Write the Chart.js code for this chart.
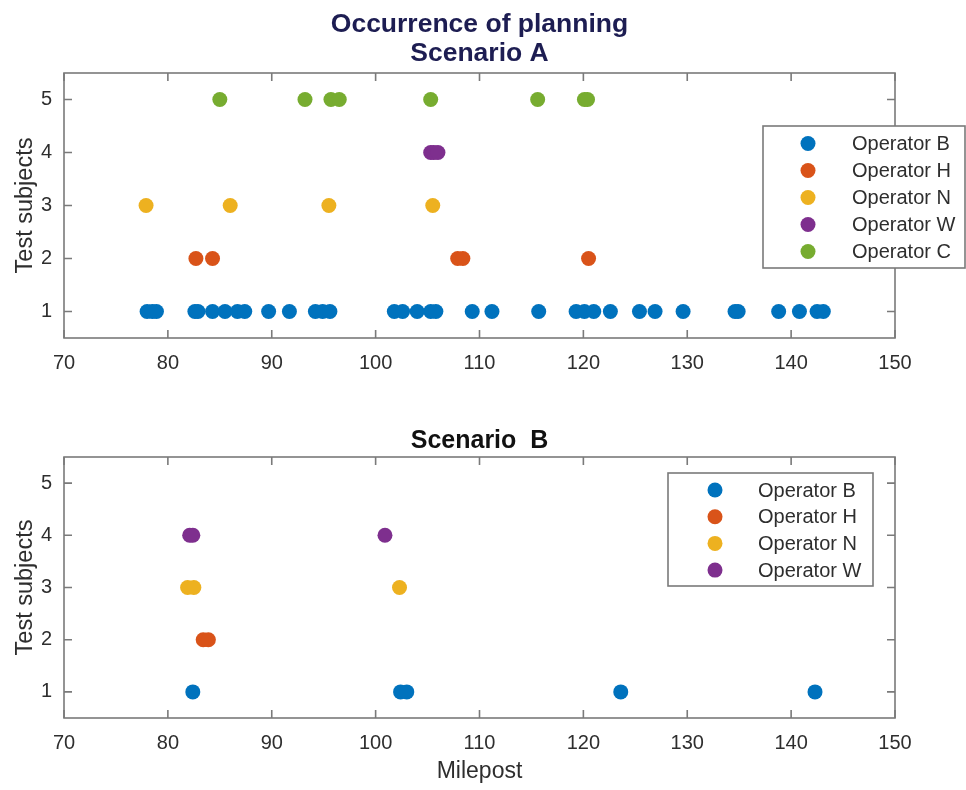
<!DOCTYPE html>
<html>
<head>
<meta charset="utf-8">
<title>Occurrence of planning</title>
<script src="https://cdn.jsdelivr.net/npm/chart.js@4.4.1/dist/chart.umd.min.js"></script>
<style>
  html, body { margin: 0; padding: 0; background: #fff; }
  #wrap { position: relative; width: 966px; height: 790px; }
  canvas { position: absolute; left: 0; }
  #chartA { top: 0; }
  #chartB { top: 395px; }
</style>
</head>
<body>
<div id="wrap">
  <canvas id="chartA" width="966" height="395"></canvas>
  <canvas id="chartB" width="966" height="395"></canvas>
</div>
<script>
// milepost where each operator planned, per scenario
const operatorNames = ["Operator B", "Operator H", "Operator N", "Operator W", "Operator C"];
const operatorColors = ["#0072BD", "#D95319", "#EDB120", "#7E2F8E", "#77AC30"];
const subjectIds = [1, 2, 3, 4, 5];

const scenarioA_B = [78.0, 78.5, 78.9, 82.6, 82.9, 84.3, 85.5, 86.7, 87.4, 89.7, 91.7, 94.2, 94.9, 95.6,
  101.8, 102.6, 104.0, 105.3, 105.8, 109.3, 111.2, 115.7, 119.3, 120.1, 121.0, 122.6, 125.4,
  126.9, 129.6, 134.6, 134.9, 138.8, 140.8, 142.5, 143.1];
const scenarioA_H = [82.7, 84.3, 107.9, 108.4, 120.5];
const scenarioA_N = [77.9, 86.0, 95.5, 105.5];
const scenarioA_W = [105.3, 105.6, 106.0];
const scenarioA_C = [85.0, 93.2, 95.7, 96.5, 105.3, 115.6, 120.1, 120.4];

const scenarioB_B = [82.4, 102.4, 103.0, 123.6, 142.3];
const scenarioB_H = [83.4, 83.9];
const scenarioB_N = [81.9, 82.5, 102.3];
const scenarioB_W = [82.1, 82.4, 100.9];

const xTicks = [70, 80, 90, 100, 110, 120, 130, 140, 150];
const yTicks = [1, 2, 3, 4, 5];

const FONT = "'Liberation Sans', Arial, sans-serif";
const AXIS_COLOR = "#7a7a7a";
const TEXT_COLOR = "#2e2e2e";

function makeDatasets(seriesList) {
  return seriesList.map((values, i) => ({
    label: operatorNames[i],
    data: values.map(v => ({ x: v, y: subjectIds[i] })),
    backgroundColor: operatorColors[i],
    borderWidth: 0,
    pointRadius: 7.5,
    pointHoverRadius: 7.5
  }));
}

// MATLAB-like box: frame plus inward tick marks on all four sides
const boxAxes = {
  id: "boxAxes",
  afterDraw(chart) {
    const { ctx, chartArea: a, scales } = chart;
    ctx.save();
    ctx.strokeStyle = AXIS_COLOR;
    ctx.lineWidth = 1.6;
    ctx.strokeRect(a.left, a.top, a.right - a.left, a.bottom - a.top);
    ctx.beginPath();
    const len = 8;
    xTicks.forEach(v => {
      const px = scales.x.getPixelForValue(v);
      ctx.moveTo(px, a.bottom); ctx.lineTo(px, a.bottom - len);
      ctx.moveTo(px, a.top); ctx.lineTo(px, a.top + len);
    });
    yTicks.forEach(v => {
      const py = scales.y.getPixelForValue(v);
      ctx.moveTo(a.left, py); ctx.lineTo(a.left + len, py);
      ctx.moveTo(a.right, py); ctx.lineTo(a.right - len, py);
    });
    ctx.stroke();
    ctx.restore();
  }
};

// title lines centred over the plot box rather than the canvas
const axesTitle = {
  id: "axesTitle",
  afterDraw(chart, args, opts) {
    const { ctx, chartArea: a } = chart;
    const cx = (a.left + a.right) / 2;
    ctx.save();
    ctx.font = "bold " + opts.size + "px " + FONT;
    ctx.fillStyle = opts.color;
    ctx.textAlign = "center";
    ctx.textBaseline = "alphabetic";
    opts.lines.forEach((line, i) => {
      ctx.fillText(line, cx, opts.firstBaseline + i * opts.lineGap);
    });
    ctx.restore();
  }
};

// legend drawn as a framed box over the plot
const boxLegend = {
  id: "boxLegend",
  afterDraw(chart, args, opts) {
    const { ctx } = chart;
    const sets = chart.data.datasets;
    ctx.save();
    ctx.fillStyle = "#fff";
    ctx.fillRect(opts.left, opts.top, opts.width, opts.height);
    ctx.strokeStyle = AXIS_COLOR;
    ctx.lineWidth = 1.6;
    ctx.strokeRect(opts.left, opts.top, opts.width, opts.height);
    ctx.font = "20px " + FONT;
    ctx.textBaseline = "middle";
    ctx.textAlign = "left";
    sets.forEach((ds, i) => {
      const y = opts.firstRow + i * opts.rowHeight;
      ctx.fillStyle = ds.backgroundColor;
      ctx.beginPath();
      ctx.arc(opts.markerX, y, 7.5, 0, Math.PI * 2);
      ctx.fill();
      ctx.fillStyle = TEXT_COLOR;
      ctx.fillText(ds.label, opts.textX, y + 1);
    });
    ctx.restore();
  }
};

function makeOptions(cfg) {
  return {
    responsive: false,
    animation: false,
    devicePixelRatio: 1,
    layout: { padding: { left: 0, right: 71, top: cfg.top, bottom: 0 } },
    plugins: {
      legend: { display: false },
      tooltip: { enabled: false },
      title: { display: false },
      axesTitle: cfg.title,
      boxLegend: cfg.legend
    },
    scales: {
      x: {
        type: "linear",
        min: 70,
        max: 150,
        grid: { display: false, drawTicks: false },
        border: { display: false },
        ticks: {
          stepSize: 10,
          color: TEXT_COLOR,
          padding: 13,
          font: { family: FONT, size: 20 }
        },
        title: {
          display: cfg.xTitle,
          text: "Milepost",
          color: TEXT_COLOR,
          font: { family: FONT, size: 23 },
          padding: { top: 0, bottom: 5 }
        },
        afterFit(scale) { scale.height = cfg.xHeight; }
      },
      y: {
        type: "linear",
        min: 0.5,
        max: 5.5,
        grid: { display: false, drawTicks: false },
        border: { display: false },
        afterBuildTicks(scale) { scale.ticks = yTicks.map(v => ({ value: v })); },
        ticks: {
          color: TEXT_COLOR,
          padding: 12,
          font: { family: FONT, size: 20 }
        },
        title: {
          display: true,
          text: "Test subjects",
          color: TEXT_COLOR,
          font: { family: FONT, size: 23.5 },
          padding: { top: 11, bottom: 0 }
        },
        afterFit(scale) { scale.width = 64; }
      }
    }
  };
}

new Chart(document.getElementById("chartA"), {
  type: "scatter",
  data: { datasets: makeDatasets([scenarioA_B, scenarioA_H, scenarioA_N, scenarioA_W, scenarioA_C]) },
  options: makeOptions({
    top: 73,
    title: { lines: ["Occurrence of planning", "Scenario A"], color: "#1d1d52", size: 26.5, firstBaseline: 32, lineGap: 29 },
    xTitle: false,
    xHeight: 57,
    legend: { left: 763, top: 126, width: 202, height: 142, firstRow: 143.5, rowHeight: 27, markerX: 808, textX: 852 }
  }),
  plugins: [boxAxes, axesTitle, boxLegend]
});

new Chart(document.getElementById("chartB"), {
  type: "scatter",
  data: { datasets: makeDatasets([scenarioB_B, scenarioB_H, scenarioB_N, scenarioB_W]) },
  options: makeOptions({
    top: 62,
    title: { lines: ["Scenario  B"], color: "#111", size: 25, firstBaseline: 53, lineGap: 0 },
    xTitle: true,
    xHeight: 72,
    legend: { left: 668, top: 78, width: 205, height: 113, firstRow: 95, rowHeight: 26.7, markerX: 715, textX: 758 }
  }),
  plugins: [boxAxes, axesTitle, boxLegend]
});
</script>
</body>
</html>
